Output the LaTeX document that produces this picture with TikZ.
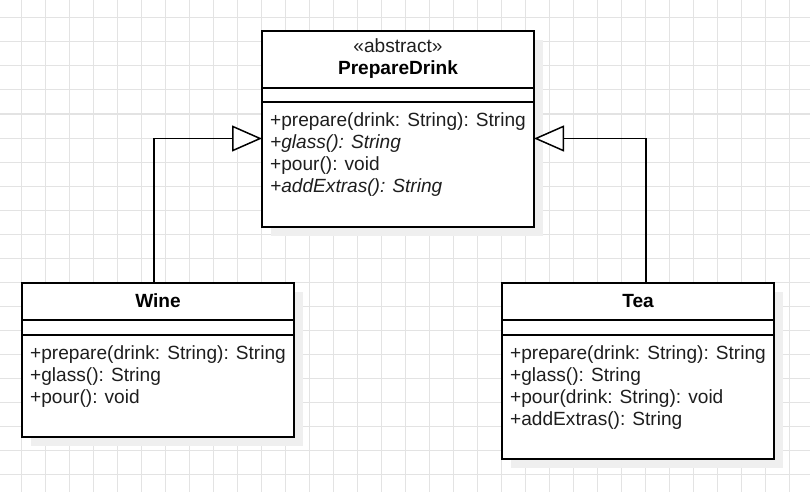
\documentclass[tikz,border=0pt]{standalone}
\usepackage{fontspec}
\setmainfont{Liberation Sans}
\usetikzlibrary{arrows.meta,shadows,calc}
\definecolor{gridc}{HTML}{E3E3E3}
\definecolor{shad}{HTML}{EFEFEF}
\definecolor{textc}{HTML}{1E1E1E}
\begin{document}
\begin{tikzpicture}[x=1pt,y=-1pt,
  classbox/.style={draw=black, line width=1.5pt, fill=white, rectangle, inner sep=0pt, outer sep=0pt, anchor=north west,
    general shadow={fill=shad, shadow xshift=9pt, shadow yshift=-9pt}},
  divider/.style={line width=1.5pt},
  txt/.style={font=\fontsize{19.1}{22}\selectfont, inner sep=0pt, anchor=base west, text=textc},
  itxt/.style={txt, font=\fontsize{19.1}{22}\selectfont\itshape},
  ttl/.style={font=\fontsize{19.1}{22}\selectfont\bfseries, inner sep=0pt, anchor=base, text=black},
  stereo/.style={font=\fontsize{19.1}{22}\selectfont, inner sep=0pt, anchor=base, text=textc},
  inh/.style={line width=1.5pt, -{Triangle[fill=white, length=30pt, width=26pt]}},
]
\useasboundingbox (0,0) rectangle (810,492);
\fill[white] (0,0) rectangle (810,492);
\foreach \x in {21,45,...,789} \draw[gridc, line width=1pt] (\x,0) -- (\x,492);
\foreach \y in {18,42,...,474} \draw[gridc, line width=1pt] (0,\y) -- (810,\y);

% classes
\node[classbox, minimum width=272pt, minimum height=196pt] (prep) at (262,31) {};
\node[classbox, minimum width=272pt, minimum height=154pt] (wine) at (22,283) {};
\node[classbox, minimum width=272pt, minimum height=176pt] (tea) at (502,283) {};

\draw[divider] ($(prep.north west)+(0,57)$) -- ($(prep.north east)+(0,57)$);
\draw[divider] ($(prep.north west)+(0,71)$) -- ($(prep.north east)+(0,71)$);
\draw[divider] ($(wine.north west)+(0,37)$) -- ($(wine.north east)+(0,37)$);
\draw[divider] ($(wine.north west)+(0,52)$) -- ($(wine.north east)+(0,52)$);
\draw[divider] ($(tea.north west)+(0,37)$) -- ($(tea.north east)+(0,37)$);
\draw[divider] ($(tea.north west)+(0,52)$) -- ($(tea.north east)+(0,52)$);

% PrepareDrink texts
\node[stereo] (pst) at (398,52.5) {«abstract»};
\node[ttl] (pname) at (398,75) {PrepareDrink};
\node[txt] (pm1) at (270,126) {+prepare(drink: String): String};
\node[itxt] (pm2) at (270,148.3) {+glass(): String};
\node[txt] (pm3) at (270,170.6) {+pour(): void};
\node[itxt] (pm4) at (270,192.9) {+addExtras(): String};

% Wine texts
\node[ttl] (wname) at (158,307) {Wine};
\node[txt] (wm1) at (30,359.5) {+prepare(drink: String): String};
\node[txt] (wm2) at (30,381.5) {+glass(): String};
\node[txt] (wm3) at (30,403.5) {+pour(): void};

% Tea texts
\node[ttl] (tname) at (638,307) {Tea};
\node[txt] (tm1) at (510,359.5) {+prepare(drink: String): String};
\node[txt] (tm2) at (510,381.5) {+glass(): String};
\node[txt] (tm3) at (510,403.5) {+pour(drink: String): void};
\node[txt] (tm4) at (510,425.5) {+addExtras(): String};

% inheritance
\draw[inh] ($(wine.north west)+(132,0)$) |- ($(prep.north west)+(0,107.5)$);
\draw[inh] ($(tea.north west)+(144,0)$) |- ($(prep.north east)+(0,107.5)$);
\end{tikzpicture}
\end{document}
